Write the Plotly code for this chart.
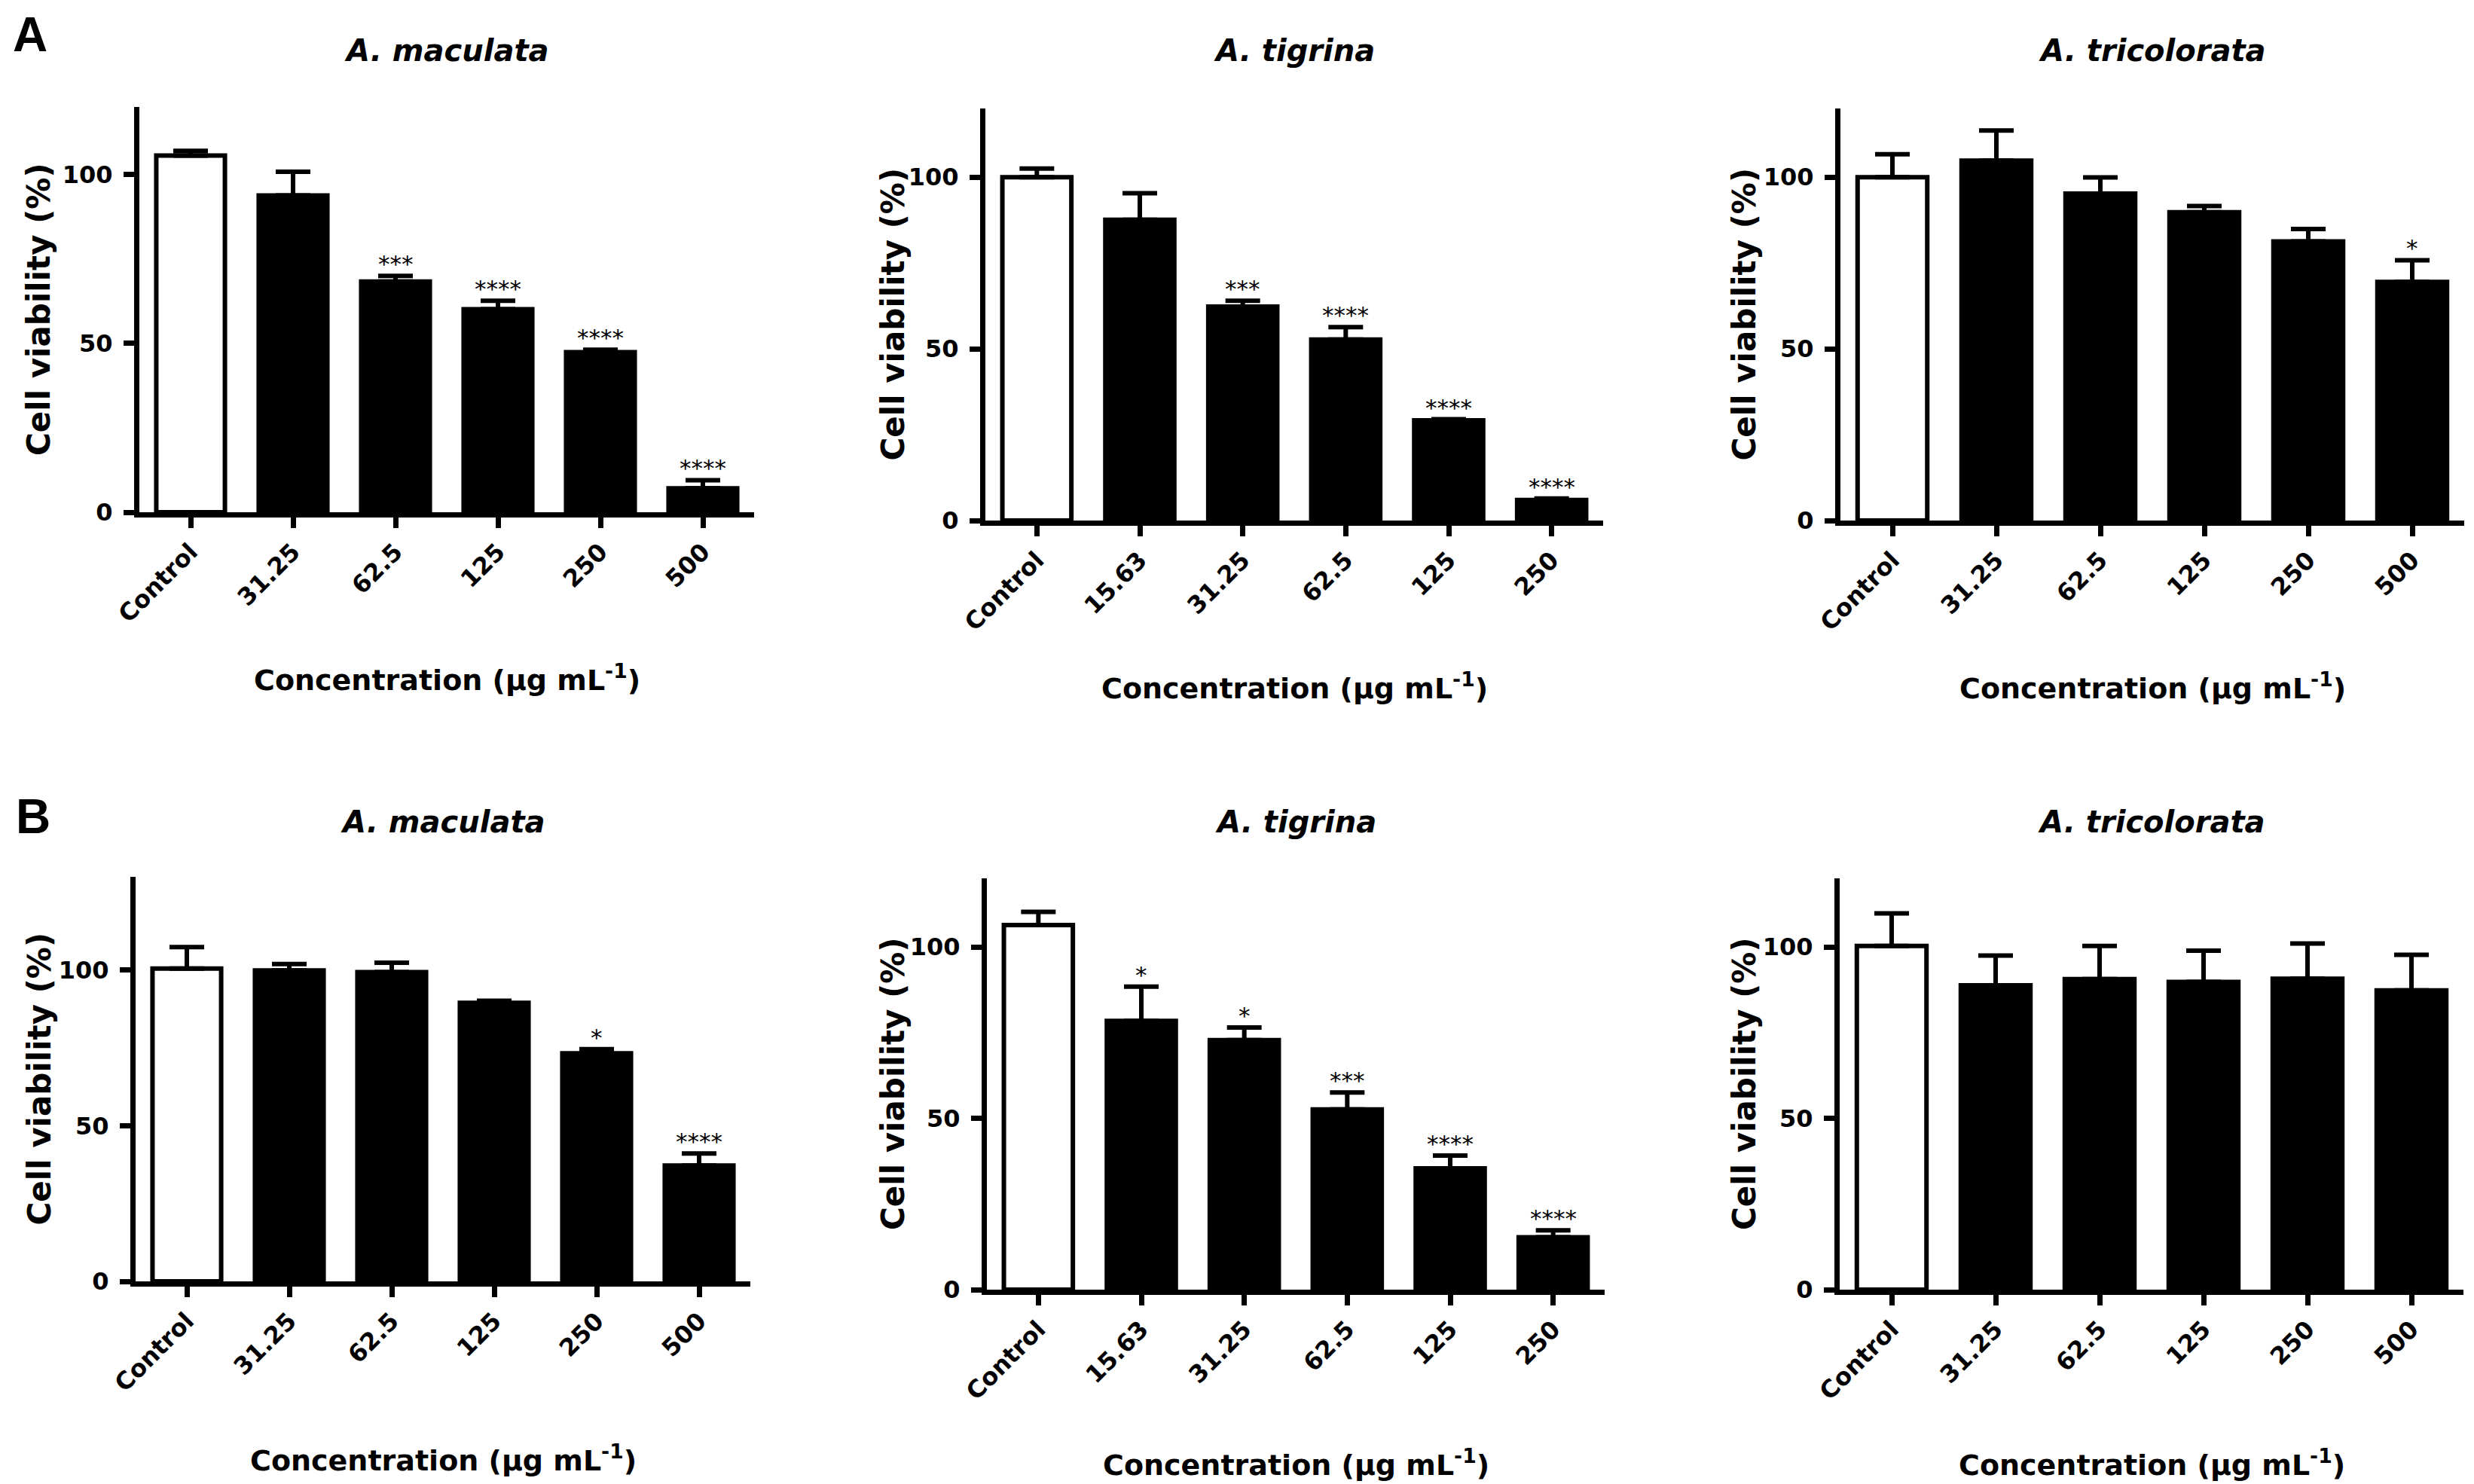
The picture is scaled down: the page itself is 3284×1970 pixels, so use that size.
import plotly.graph_objects as go

# the page body keeps its default 8 px margin, so the figure is shrunk by it
OFF = 8
W, H = 3284 - OFF, 1970 - OFF

# concentrations (µg mL-1)
conc_maculata = ["Control", "31.25", "62.5", "125", "250", "500"]
conc_tigrina = ["Control", "15.63", "31.25", "62.5", "125", "250"]
conc_tricolorata = ["Control", "31.25", "62.5", "125", "250", "500"]

# panel A: mean viability (%), upper error, significance
A_maculata_mean = [105.6, 93.8, 68.3, 60.1, 47.4, 7.1]
A_maculata_err = [1.4, 7.0, 1.7, 2.5, 0.7, 2.4]
A_maculata_sig = ["", "", "***", "****", "****", "****"]

A_tigrina_mean = [100.0, 87.6, 62.3, 52.7, 29.2, 6.0]
A_tigrina_err = [2.5, 7.7, 1.7, 3.6, 0.3, 0.4]
A_tigrina_sig = ["", "", "***", "****", "****", "****"]

A_tricolorata_mean = [100.0, 104.8, 95.2, 89.8, 81.3, 69.5]
A_tricolorata_err = [6.7, 8.8, 4.7, 1.8, 3.6, 6.3]
A_tricolorata_sig = ["", "", "", "", "", "*"]

# panel B
B_maculata_mean = [100.5, 99.9, 99.4, 89.5, 73.3, 37.2]
B_maculata_err = [6.9, 2.1, 3.0, 0.7, 1.3, 3.9]
B_maculata_sig = ["", "", "", "", "*", "****"]

B_tigrina_mean = [106.4, 78.4, 72.8, 52.6, 35.4, 15.3]
B_tigrina_err = [3.8, 10.0, 3.7, 4.9, 3.7, 2.0]
B_tigrina_sig = ["", "*", "*", "***", "****", "****"]

B_tricolorata_mean = [100.3, 88.8, 90.6, 89.8, 90.7, 87.3]
B_tricolorata_err = [9.5, 8.7, 9.7, 9.1, 10.3, 10.4]
B_tricolorata_sig = ["", "", "", "", "", ""]

y_max = [120, 120, 120, 130, 120, 120]
species = ["A. maculata", "A. tigrina", "A. tricolorata"] * 2

panels = [
    (conc_maculata, A_maculata_mean, A_maculata_err, A_maculata_sig),
    (conc_tigrina, A_tigrina_mean, A_tigrina_err, A_tigrina_sig),
    (conc_tricolorata, A_tricolorata_mean, A_tricolorata_err, A_tricolorata_sig),
    (conc_maculata, B_maculata_mean, B_maculata_err, B_maculata_sig),
    (conc_tigrina, B_tigrina_mean, B_tigrina_err, B_tigrina_sig),
    (conc_tricolorata, B_tricolorata_mean, B_tricolorata_err, B_tricolorata_sig),
]

# pixel boxes of the plot areas (screen pixels): left, right, top, bottom
boxes = [(185, 1001, 142, 680), (1308, 2128, 144, 691), (2443, 3271, 144, 691),
         (180, 996, 1164, 1701), (1310, 2130, 1166, 1712), (2442, 3270, 1166, 1712)]
xtitle_y = [900, 911, 911, 1936, 1942, 1942]
ytitle_x = [52, 1185, 2315, 52, 1185, 2315]
title_y = [67, 67, 67, 1091, 1091, 1091]

FONT = "DejaVu Sans"
tick_font = dict(family=FONT, size=32, color="black", weight="bold")
title_font = dict(family=FONT, size=38, color="black", weight="bold")

fig = go.Figure()
annotations = []

def px(x):
    return (x - OFF) / W

def py(y):
    return 1 - (y - OFF) / H

for i, (conc, mean, err, sig) in enumerate(panels):
    n = i + 1
    xa = "x" if n == 1 else f"x{n}"
    ya = "y" if n == 1 else f"y{n}"
    l, r, t, b = boxes[i]

    colors = ["white"] + ["black"] * (len(conc) - 1)
    fig.add_trace(go.Bar(
        x=conc, y=mean, xaxis=xa, yaxis=ya, width=0.67,
        marker=dict(color=colors, line=dict(color="black", width=6)),
        error_y=dict(type="data", array=err, arrayminus=[0] * len(err), symmetric=False,
                     color="black", thickness=6, width=23),
        showlegend=False,
    ))

    axis_style = dict(showline=True, linewidth=7, linecolor="black", ticks="outside",
                      ticklen=14, tickwidth=7, tickcolor="black", showgrid=False,
                      zeroline=False, tickfont=tick_font, automargin=False)
    fig.layout[f"xaxis{'' if n == 1 else n}"] = dict(
        axis_style, domain=[px(l), px(r)], anchor=ya, type="category",
        range=[-0.5, len(conc) - 0.5], tickangle=-45, ticklabelstandoff=0)
    fig.layout[f"yaxis{'' if n == 1 else n}"] = dict(
        axis_style, domain=[py(b), py(t)], anchor=xa, range=[0, y_max[i]],
        tickvals=[0, 50, 100], ticklabelstandoff=8)

    # significance stars (category axis: position by index)
    for k, (m, e, s) in enumerate(zip(mean, err, sig)):
        if s:
            annotations.append(dict(
                x=k, y=m + e, xref=xa, yref=ya, text=s, showarrow=False,
                xanchor="center", yanchor="bottom", yshift=-4,
                font=dict(family=FONT, size=31, color="black")))

    cx = px((l + r) / 2)
    annotations.append(dict(
        x=cx, y=py(title_y[i]), xref="paper", yref="paper", text=species[i],
        showarrow=False, xanchor="center", yanchor="middle",
        font=dict(family=FONT, size=40, color="black", weight="bold", style="italic")))
    annotations.append(dict(
        x=cx, y=py(xtitle_y[i]), xref="paper", yref="paper",
        text="Concentration (µg mL<sup>-1</sup>)", showarrow=False,
        xanchor="center", yanchor="middle", font=title_font))
    annotations.append(dict(
        x=px(ytitle_x[i]), y=py((t + b) / 2), xref="paper", yref="paper",
        text="Cell viability (%)", showarrow=False, textangle=-90,
        xanchor="center", yanchor="middle",
        font=dict(family=FONT, size=42, color="black", weight="bold")))

# panel letters (anchored by their top so the box stays inside the page)
for letter, (lx, ly) in zip(["A", "B"], [(40, OFF), (44, 1046)]):
    annotations.append(dict(
        x=px(lx), y=py(ly), xref="paper", yref="paper", text=letter, showarrow=False,
        xanchor="center", yanchor="top",
        font=dict(family="Liberation Sans", size=64, color="black", weight="bold")))

fig.update_layout(
    width=W, height=H,
    margin=dict(l=0, r=0, t=0, b=0, autoexpand=False),
    paper_bgcolor="white", plot_bgcolor="white",
    annotations=annotations,
    showlegend=False,
)

fig.write_html("out.html")
